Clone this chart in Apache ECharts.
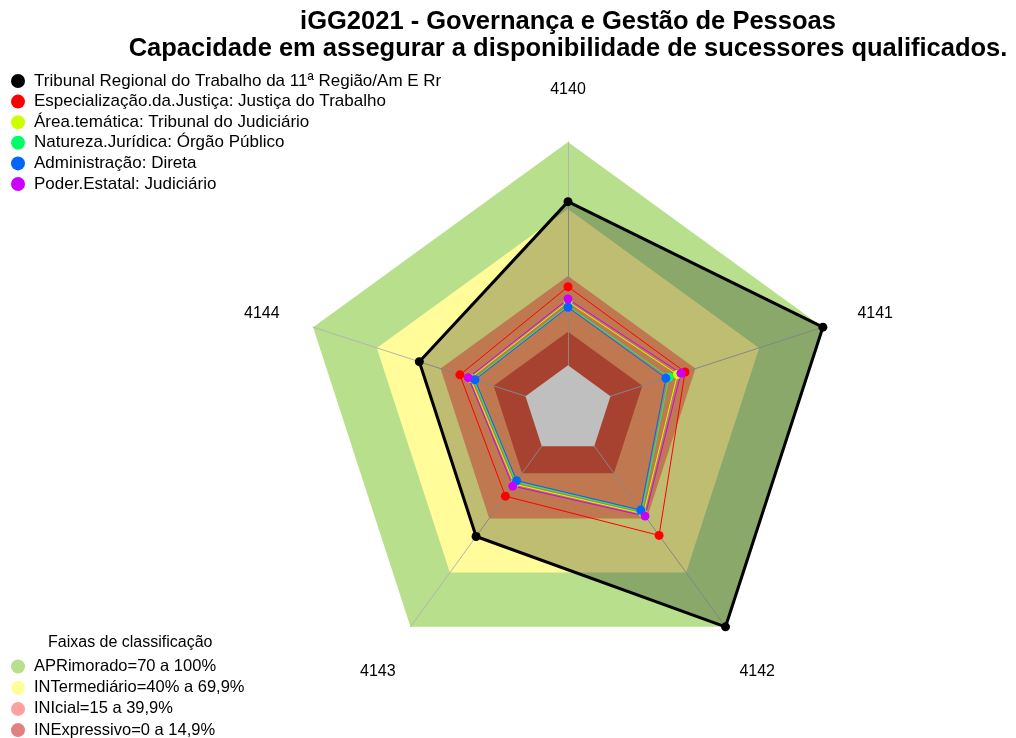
<!DOCTYPE html>
<html>
<head>
<meta charset="utf-8">
<script src="https://cdn.jsdelivr.net/npm/echarts@6/dist/echarts.min.js"></script>
<style>
  html, body { margin: 0; padding: 0; background: #fff; }
  #chart { width: 1016px; height: 738px; }
</style>
</head>
<body>
<div id="chart"></div>
<script>
// eixos do radar (sentido horário a partir do topo)
const indicadores = ['4140', '4141', '4142', '4143', '4144'];

// séries (valores na ordem de indicadores)
const nomesSeries = [
  'Tribunal Regional do Trabalho da 11ª Região/Am E Rr',
  'Especialização.da.Justiça: Justiça do Trabalho',
  'Área.temática: Tribunal do Judiciário',
  'Natureza.Jurídica: Órgão Público',
  'Administração: Direta',
  'Poder.Estatal: Judiciário'
];
const coresSeries = ['#000000', '#ff0000', '#ccff00', '#00ff66', '#0066ff', '#cc00ff'];
const trt11 = [73.3, 100, 100, 50, 50];
const justicaTrabalho = [35.2, 35.1, 49.4, 27.7, 30.9];
const tribunalJudiciario = [28.5, 31.5, 37.5, 21, 26];
const orgaoPublico = [26.6, 27.6, 36.2, 19.8, 24.4];
const administracaoDireta = [26, 26.1, 35.4, 19.1, 23.8];
const poderJudiciario = [29.7, 33.2, 38.7, 22.1, 26.9];
const valoresSeries = [trt11, justicaTrabalho, tribunalJudiciario, orgaoPublico, administracaoDireta, poderJudiciario];

// faixas de classificação
const nomesFaixas = [
  'APRimorado=70 a 100%',
  'INTermediário=40% a 69,9%',
  'INIcial=15 a 39,9%',
  'INExpressivo=0 a 14,9%'
];
const limitesFaixas = [100, 70, 40, 15];
const coresFaixas = ['#b8e08c', '#fffc99', '#ffa06b', '#e05840'];
const coresLegendaFaixas = ['#b8e08c', '#ffff99', '#ffa0a0', '#e08080'];

const escalaMin = -20;
const escalaMax = 100;
const limiteCentro = 0; // miolo vazio de -20 a 0

// ECharts desenha os indicadores no sentido anti-horário
const ordem = [0, 4, 3, 2, 1];
const reordena = (arr) => ordem.map((i) => arr[i]);

// deslocamento dos rótulos dos eixos (padding do rich text)
const paddingNomes = {
  n4140: [0, 0, 68, 0],
  n4141: [0, 0, 20, 25],
  n4142: [74, 0, 0, 8],
  n4143: [74, 9, 0, 0],
  n4144: [0, 24, 20, 0]
};
const richNomes = {};
Object.keys(paddingNomes).forEach((k) => {
  richNomes[k] = { padding: paddingNomes[k], fontSize: 16, lineHeight: 16, color: '#000' };
});

const chart = echarts.init(document.getElementById('chart'), null, { renderer: 'canvas' });

const seriesFaixas = nomesFaixas.map((nome, i) => ({
  name: nome,
  type: 'radar',
  z: 1,
  silent: true,
  symbol: 'none',
  lineStyle: { width: 0, opacity: 0 },
  itemStyle: { color: coresLegendaFaixas[i] },
  areaStyle: { color: coresFaixas[i], opacity: 1 },
  data: [{ value: indicadores.map(() => limitesFaixas[i]) }]
}));

const serieCentro = {
  name: 'centro',
  type: 'radar',
  z: 3,
  silent: true,
  symbol: 'none',
  lineStyle: { width: 0, opacity: 0 },
  itemStyle: { color: '#ffffff' },
  areaStyle: { color: '#ffffff', opacity: 1 },
  data: [{ value: indicadores.map(() => limiteCentro) }]
};

const seriesDados = nomesSeries.map((nome, i) => ({
  name: nome,
  type: 'radar',
  z: 4,
  symbol: 'circle',
  symbolSize: 9,
  itemStyle: { color: coresSeries[i] },
  lineStyle: { color: coresSeries[i], width: i === 0 ? 3 : 1 },
  areaStyle: i === 0 ? { color: '#000000', opacity: 0.25 } : undefined,
  data: [{ value: reordena(valoresSeries[i]) }]
}));

chart.setOption({
  backgroundColor: '#ffffff',
  animation: false,
  textStyle: { fontFamily: 'Liberation Sans, Arial, sans-serif' },
  title: [
    {
      text: 'iGG2021 - Governança e Gestão de Pessoas\nCapacidade em assegurar a disponibilidade de sucessores qualificados.',
      left: 563,
      top: 3,
      padding: 5,
      textAlign: 'center',
      textStyle: { fontSize: 25.5, fontWeight: 'bold', color: '#000', lineHeight: 27 }
    },
    {
      text: 'Faixas de classificação',
      left: 43,
      top: 630,
      textStyle: { fontSize: 16, fontWeight: 'normal', color: '#000' }
    }
  ],
  legend: [
    {
      data: nomesSeries,
      orient: 'vertical',
      left: 6,
      top: 67.5,
      icon: 'circle',
      itemWidth: 14,
      itemHeight: 14,
      itemGap: 3.6,
      selectedMode: false,
      textStyle: { fontSize: 17, color: '#000', padding: [0, 0, 0, 4] }
    },
    {
      data: nomesFaixas,
      orient: 'vertical',
      left: 11,
      top: 658,
      height: 140,
      padding: 0,
      icon: 'circle',
      itemWidth: 14,
      itemHeight: 14,
      itemGap: 4.2,
      selectedMode: false,
      textStyle: { fontSize: 16.5, color: '#000', padding: [0, 0, 0, 4] }
    }
  ],
  radar: {
    z: 2,
    center: [568, 410],
    radius: 268,
    startAngle: 90,
    shape: 'polygon',
    splitNumber: 1,
    nameGap: 10,
    axisName: {
      formatter: (nome) => `{n${nome}|${nome}}`,
      rich: richNomes
    },
    axisLine: { lineStyle: { color: '#b4b4b4', width: 1 } },
    splitLine: { show: false },
    splitArea: { show: false },
    indicator: reordena(indicadores).map((nome) => ({ name: nome, min: escalaMin, max: escalaMax }))
  },
  series: [...seriesFaixas, serieCentro, ...seriesDados]
});

window.addEventListener('resize', () => chart.resize());
</script>
</body>
</html>
